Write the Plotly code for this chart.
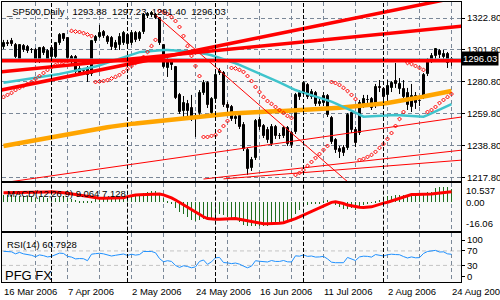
import plotly.graph_objects as go
import pandas as pd

# ---------------- data ----------------
holidays = ["2006-04-14", "2006-05-29", "2006-07-04"]
dates = [d for d in pd.bdate_range("2006-03-16", "2006-08-24") if d.strftime("%Y-%m-%d") not in holidays]

opens = [1303.8, 1306.4, 1307.7, 1305.1, 1295.9, 1304.4, 1303.8, 1301.8, 1301.8, 1293.9,
         1303.1, 1301.1, 1303.1, 1297.2, 1306.4, 1312.3, 1309.7, 1297.2, 1297.2, 1286.7,
         1288.0, 1290.0, 1286.0, 1307.7, 1310.3, 1313.6, 1310.3, 1309.7, 1303.1, 1305.1,
         1306.4, 1311.6, 1306.4, 1312.9, 1309.0, 1313.6, 1324.1, 1324.8, 1324.8, 1322.8,
         1305.1, 1290.0, 1294.6, 1290.6, 1272.3, 1261.8, 1266.4, 1263.7, 1256.5, 1260.4,
         1273.6, 1280.1, 1260.4, 1269.6, 1286.7, 1286.7, 1265.7, 1264.4, 1256.5, 1258.5,
         1252.6, 1236.2, 1224.4, 1230.9, 1255.9, 1251.9, 1249.3, 1240.1, 1251.3, 1245.4,
         1245.4, 1250.6, 1247.3, 1248.0, 1273.6, 1272.9, 1278.8, 1270.9, 1273.6, 1266.4,
         1267.0, 1271.6, 1257.2, 1242.7, 1236.8, 1237.5, 1237.5, 1260.4, 1249.3, 1247.3,
         1265.0, 1269.0, 1269.6, 1265.0, 1277.2, 1276.2, 1272.3, 1276.9, 1281.4, 1276.2,
         1276.2, 1273.6, 1264.4, 1271.6, 1268.3, 1270.9, 1286.0, 1294.6, 1297.9, 1301.1,
         1297.2, 1299.2, 1293.88]
highs = [1308.4, 1308.4, 1309.7, 1306.4, 1305.7, 1305.7, 1305.1, 1303.1, 1303.1, 1303.8,
         1304.4, 1302.4, 1303.8, 1307.0, 1312.9, 1312.9, 1310.3, 1298.5, 1298.5, 1291.3,
         1290.0, 1291.3, 1308.4, 1311.6, 1318.2, 1314.9, 1311.6, 1311.0, 1308.4, 1312.9,
         1314.3, 1312.9, 1314.9, 1314.3, 1314.3, 1326.1, 1326.7, 1327.4, 1326.1, 1323.4,
         1305.7, 1296.5, 1295.9, 1291.3, 1273.6, 1271.6, 1269.0, 1272.3, 1260.4, 1275.5,
         1282.1, 1281.4, 1270.9, 1286.7, 1290.0, 1288.0, 1267.7, 1265.7, 1259.8, 1260.4,
         1254.5, 1237.5, 1231.6, 1256.5, 1257.8, 1253.2, 1251.3, 1253.2, 1252.6, 1247.3,
         1251.9, 1251.9, 1248.6, 1273.6, 1275.5, 1281.4, 1280.1, 1276.2, 1274.9, 1269.6,
         1274.2, 1272.9, 1258.5, 1244.0, 1238.8, 1239.4, 1260.4, 1262.4, 1251.3, 1269.0,
         1272.3, 1272.3, 1270.9, 1279.5, 1282.1, 1277.5, 1282.1, 1281.4, 1293.3, 1283.4,
         1282.1, 1276.9, 1279.5, 1274.2, 1270.9, 1286.7, 1296.5, 1299.8, 1303.1, 1302.4,
         1301.8, 1300.5, 1297.23]
lows = [1302.4, 1304.4, 1304.4, 1296.5, 1295.2, 1300.5, 1299.8, 1299.8, 1293.3, 1293.3,
        1298.5, 1293.9, 1295.9, 1296.5, 1305.1, 1307.7, 1295.2, 1292.6, 1286.0, 1285.4,
        1286.7, 1280.8, 1284.7, 1306.4, 1309.7, 1309.7, 1305.7, 1301.8, 1301.8, 1301.8,
        1305.1, 1304.4, 1305.1, 1307.0, 1307.7, 1312.3, 1322.8, 1323.4, 1322.1, 1305.1,
        1290.0, 1284.1, 1288.7, 1269.6, 1259.8, 1257.2, 1257.2, 1255.2, 1244.7, 1257.2,
        1272.3, 1263.7, 1259.1, 1268.3, 1285.4, 1264.4, 1261.1, 1255.2, 1253.2, 1249.9,
        1235.5, 1219.8, 1222.4, 1229.6, 1249.3, 1244.0, 1240.8, 1238.8, 1243.4, 1243.4,
        1244.0, 1238.8, 1237.5, 1246.7, 1269.0, 1271.6, 1269.6, 1269.6, 1265.0, 1265.0,
        1265.0, 1257.8, 1240.1, 1234.2, 1230.9, 1232.2, 1236.2, 1247.3, 1238.1, 1246.0,
        1263.7, 1265.0, 1262.4, 1263.7, 1274.2, 1265.7, 1267.7, 1274.2, 1276.9, 1272.9,
        1269.6, 1262.4, 1261.1, 1263.1, 1265.0, 1269.6, 1284.7, 1293.3, 1295.9, 1296.5,
        1295.2, 1290.0, 1291.40]
closes = [1306.4, 1306.0, 1305.7, 1297.2, 1305.1, 1301.8, 1301.1, 1301.6, 1293.9, 1303.1,
          1299.8, 1295.2, 1297.2, 1306.4, 1311.6, 1309.0, 1296.5, 1293.9, 1287.4, 1289.3,
          1288.2, 1285.4, 1307.7, 1310.3, 1312.9, 1311.0, 1307.0, 1303.8, 1306.4, 1310.3,
          1312.9, 1305.7, 1312.9, 1308.4, 1312.9, 1324.8, 1325.4, 1326.1, 1322.8, 1306.4,
          1290.6, 1294.6, 1291.9, 1270.3, 1261.1, 1267.0, 1261.8, 1256.5, 1258.5, 1273.6,
          1280.1, 1265.7, 1269.6, 1285.4, 1288.0, 1265.7, 1263.7, 1256.5, 1257.8, 1251.3,
          1236.8, 1223.7, 1229.6, 1255.2, 1251.3, 1245.4, 1242.7, 1251.3, 1245.4, 1245.2,
          1250.6, 1240.1, 1239.4, 1272.3, 1270.9, 1280.1, 1270.9, 1274.2, 1266.4, 1267.7,
          1271.6, 1259.1, 1241.4, 1236.2, 1234.9, 1234.2, 1259.1, 1249.3, 1240.8, 1267.0,
          1269.6, 1268.8, 1263.7, 1277.5, 1276.9, 1270.9, 1278.2, 1280.1, 1279.5, 1279.5,
          1270.9, 1265.7, 1271.6, 1267.0, 1268.1, 1285.4, 1295.2, 1297.9, 1302.4, 1298.5,
          1299.2, 1293.3, 1296.03]

ma_orange = [1238.8, 1239.3, 1239.8, 1240.2, 1240.7, 1241.2, 1241.6, 1242.1, 1242.6, 1243.0,
             1243.5, 1244.0, 1244.5, 1244.9, 1245.4, 1245.9, 1246.3, 1246.8, 1247.3, 1247.8,
             1248.2, 1248.7, 1249.2, 1249.7, 1250.1, 1250.6, 1251.1, 1251.5, 1252.0, 1252.5,
             1252.8, 1253.0, 1253.3, 1253.5, 1253.8, 1254.0, 1254.3, 1254.5, 1254.7, 1254.9,
             1255.2, 1255.4, 1255.6, 1255.9, 1256.2, 1256.5, 1256.8, 1257.1, 1257.4, 1257.7,
             1258.0, 1258.3, 1258.6, 1258.9, 1259.2, 1259.5, 1259.8, 1260.1, 1260.2, 1260.4,
             1260.5, 1260.6, 1260.8, 1260.9, 1261.0, 1261.2, 1261.3, 1261.4, 1261.6, 1261.7,
             1261.8, 1262.0, 1262.1, 1262.3, 1262.4, 1262.6, 1262.7, 1262.9, 1263.0, 1263.2,
             1263.3, 1263.5, 1263.6, 1263.8, 1263.9, 1264.1, 1264.2, 1264.5, 1264.7, 1265.0,
             1265.2, 1265.5, 1265.7, 1266.0, 1266.2, 1266.6, 1267.0, 1267.4, 1267.8, 1268.3,
             1268.7, 1269.1, 1269.6, 1270.1, 1270.7, 1271.2, 1271.8, 1272.3, 1272.8, 1273.3,
             1273.9, 1274.4, 1274.9]
ma_cyan = [1280.3, 1280.7, 1281.1, 1281.5, 1281.9, 1282.2, 1282.6, 1283.0, 1283.4, 1283.7,
           1284.1, 1284.6, 1285.1, 1285.6, 1286.1, 1286.6, 1287.1, 1287.6, 1288.1, 1288.6,
           1289.1, 1289.5, 1290.0, 1290.9, 1291.8, 1292.7, 1293.6, 1294.4, 1295.3, 1296.2,
           1297.1, 1298.1, 1299.0, 1300.0, 1300.4, 1300.7, 1301.0, 1301.3, 1301.5, 1301.7,
           1301.8, 1301.8, 1301.7, 1301.6, 1301.4, 1301.2, 1300.9, 1300.6, 1300.3, 1300.0,
           1299.6, 1299.0, 1298.3, 1297.5, 1296.8, 1296.0, 1295.1, 1294.2, 1293.1, 1292.0,
           1290.9, 1289.8, 1288.7, 1287.6, 1286.5, 1285.4, 1284.2, 1282.9, 1281.7, 1280.5,
           1279.2, 1278.0, 1276.7, 1275.5, 1274.6, 1273.8, 1272.9, 1272.1, 1271.2, 1270.4,
           1269.5, 1268.7, 1267.9, 1266.8, 1265.7, 1264.5, 1263.4, 1262.0, 1260.7, 1259.3,
           1258.0, 1258.1, 1258.3, 1258.4, 1258.6, 1258.7, 1258.8, 1259.0, 1259.1, 1259.0,
           1258.8, 1258.7, 1258.5, 1258.3, 1258.2, 1258.0, 1259.1, 1260.2, 1261.3, 1262.5,
           1263.7, 1265.0, 1266.2]
sar = [1270.9, 1272.3, 1273.6, 1275.5, 1276.9, 1278.2, 1279.5, 1280.8, 1282.8, 1284.7,
       1286.7, 1288.7, 1290.6, 1291.9, 1293.3, 1293.9, 1294.6, 1314.3, 1313.9, 1313.6,
       1312.9, 1312.0, 1311.0, 1280.8, 1281.1, 1281.4, 1282.1, 1283.1, 1284.1, 1285.4,
       1287.4, 1289.3, 1291.3, 1293.3, 1295.2, 1297.2, 1300.5, 1304.4, 1308.4, 1327.4,
       1326.7, 1325.4, 1323.4, 1320.8, 1316.9, 1311.0, 1304.4, 1297.9, 1291.3, 1284.7,
       1244.7, 1244.7, 1245.4, 1246.0, 1248.6, 1251.9, 1255.2, 1290.0, 1289.7, 1288.7,
       1287.4, 1284.7, 1281.4, 1277.5, 1274.2, 1270.9, 1268.3, 1266.4, 1264.4, 1262.4,
       1260.4, 1258.5, 1257.2, 1219.8, 1221.1, 1223.0, 1225.7, 1228.3, 1230.9, 1233.5,
       1236.2, 1238.8, 1280.8, 1280.1, 1278.8, 1276.9, 1274.9, 1272.3, 1269.6, 1229.6,
       1230.3, 1231.6, 1232.9, 1234.9, 1237.5, 1240.1, 1243.4, 1247.3, 1251.9, 1256.5,
       1261.1, 1293.3, 1292.6, 1291.3, 1290.0, 1288.7, 1261.1, 1262.4, 1264.4, 1267.0,
       1269.0, 1270.9, 1272.9]

macd_main = [5.0, 5.0, 4.8, 4.3, 4.5, 4.3, 4.0, 3.7, 3.2, 3.5,
             3.4, 3.0, 2.9, 3.2, 3.8, 4.0, 3.2, 2.5, 1.6, 1.0,
             0.6, 0.3, 1.2, 2.0, 2.6, 2.8, 2.9, 2.6, 2.6, 3.0,
             3.4, 3.5, 4.0, 4.2, 4.6, 6.0, 7.0, 7.6, 7.7, 5.5,
             2.8, 1.0, -0.8, -3.5, -6.5, -8.0, -9.8, -11.5, -12.5, -12.0,
             -10.8, -11.0, -10.8, -9.0, -7.8, -8.5, -9.5, -10.8, -11.8, -13.0,
             -14.8, -16.06, -16.0, -15.5, -15.8, -16.0, -15.8, -15.0, -14.5, -14.0,
             -13.5, -13.0, -12.0, -8.0, -5.0, -2.5, -1.8, -1.0, -1.2, -0.6,
             0.5, 1.4, 1.0, -1.5, -3.0, -4.2, -4.6, -4.0, -4.8, -3.0,
             -2.0, -1.2, -0.4, 0.8, 1.5, 2.5, 4.0, 4.5, 5.0, 5.2,
             4.8, 4.2, 4.6, 4.4, 4.8, 6.0, 6.6, 6.8, 9.5, 10.2,
             10.537, 10.0, 9.064]
macd_signal = [6.4, 6.4, 6.5, 6.5, 6.6, 6.6, 6.7, 6.7, 6.8, 6.8,
               6.9, 6.9, 7.0, 6.9, 6.7, 6.4, 6.0, 5.6, 5.1, 4.6,
               4.1, 3.6, 3.2, 2.9, 2.7, 2.7, 2.7, 2.7, 2.7, 2.8,
               3.0, 3.8, 4.5, 4.9, 5.0, 5.1, 5.3, 5.5, 5.6, 5.5,
               5.0, 4.2, 3.0, 1.6, 0.0, -1.6, -3.3, -5.0, -6.7, -8.3,
               -9.6, -10.8, -11.3, -11.3, -11.2, -11.1, -10.8, -10.7, -10.8, -11.2,
               -11.7, -12.2, -12.8, -13.5, -14.0, -14.2, -14.2, -14.2, -14.1, -14.0,
               -13.6, -12.8, -11.8, -10.8, -9.7, -8.5, -7.3, -6.0, -4.6, -3.3,
               -2.1, -0.8, 0.0, 0.4, 0.0, -0.8, -1.8, -2.4, -2.9, -3.3,
               -3.4, -3.3, -3.0, -2.2, -1.2, -0.5, 0.1, 1.0, 1.9, 3.0,
               3.8, 4.6, 5.2, 5.3, 5.3, 5.3, 5.3, 5.5, 5.9, 6.3,
               6.7, 7.0, 7.128]
rsi = [69.0, 68.5, 67.5, 62.0, 66.0, 62.0, 60.5, 58.0, 54.0, 59.0,
       57.0, 53.5, 55.0, 60.5, 64.0, 63.0, 55.0, 53.0, 48.0, 49.0,
       48.5, 43.0, 61.0, 62.5, 63.5, 62.0, 59.0, 56.0, 58.0, 60.0,
       61.5, 57.5, 61.0, 58.5, 60.0, 68.5, 68.0, 68.5, 65.0, 49.0,
       40.0, 43.0, 41.0, 30.0, 24.5, 29.0, 27.0, 23.5, 26.0, 41.0,
       45.0, 33.0, 40.0, 51.0, 52.0, 38.0, 37.0, 35.0, 36.5, 33.5,
       28.0, 23.5, 28.0, 43.0, 41.5, 40.0, 39.5, 43.5, 41.0, 41.0,
       43.5, 40.0, 39.5, 56.5, 55.5, 59.0, 55.0, 56.0, 53.0, 53.5,
       55.0, 48.0, 39.0, 37.5, 37.0, 37.5, 52.0, 47.0, 43.5, 53.5,
       55.5, 55.0, 53.0, 60.0, 59.0, 56.0, 59.5, 61.0, 60.0, 59.5,
       54.5, 50.5, 53.5, 51.0, 51.5, 63.0, 68.5, 69.5, 71.5, 67.0,
       67.5, 62.0, 60.7928]

price_ticks = [1217.8, 1238.8, 1259.8, 1280.8, 1301.8, 1322.8]
rsi_ticks = [100, 70, 30, 0]
rsi_levels = [70, 30]

# drawn objects (bar index, price)
level_line = 1294.8
thick_lines = [([-1, 115], [1275.3, 1337.2]),
               ([-1, 115], [1287.4, 1317.5])]
thin_lines = [([38, 87], [1324.8, 1213.1]),
              ([-1, 115], [1214.3, 1258.0]),
              ([50, 115], [1217.1, 1236.2]),
              ([55, 115], [1217.2, 1229.6])]

# ---------------- figure ----------------
n = len(dates)
idx = list(range(n))
UP, DN = "#00E000", "#F00000"
GRID = "#7b8898"
FONT = "Liberation Sans, Arial, sans-serif"
xr = [-0.375, 114.375]

fig = go.Figure()

# wicks
wx, wy = [], []
for i in idx:
    wx += [i, i, None]
    wy += [lows[i], highs[i], None]
fig.add_trace(go.Scatter(x=wx, y=wy, mode="lines", line=dict(color="black", width=1),
                         xaxis="x", yaxis="y", hoverinfo="skip"))
# bodies
fig.add_trace(go.Bar(x=idx, y=[abs(c - o) for o, c in zip(opens, closes)],
                     base=[min(o, c) for o, c in zip(opens, closes)], width=0.5,
                     marker=dict(color=[UP if c >= o else DN for o, c in zip(opens, closes)],
                                 line=dict(color="black", width=1)),
                     xaxis="x", yaxis="y", hoverinfo="skip"))
# indicators
fig.add_trace(go.Scatter(x=idx, y=ma_orange, mode="lines", line=dict(color="#FFA500", width=4.5),
                         xaxis="x", yaxis="y", hoverinfo="skip"))
fig.add_trace(go.Scatter(x=idx, y=ma_cyan, mode="lines", line=dict(color="#3FC4CC", width=2.5),
                         xaxis="x", yaxis="y", hoverinfo="skip"))
fig.add_trace(go.Scatter(x=idx, y=sar, mode="markers",
                         marker=dict(symbol="diamond-open", size=3, color="#FF0000", line=dict(width=1, color="#FF0000")),
                         xaxis="x", yaxis="y", hoverinfo="skip"))
# bid line
fig.add_trace(go.Scatter(x=[-1, 115], y=[closes[-1]] * 2, mode="lines", line=dict(color="#8a98aa", width=1),
                         xaxis="x", yaxis="y", hoverinfo="skip"))
# trend lines
fig.add_trace(go.Scatter(x=[-1, 115], y=[level_line] * 2, mode="lines", line=dict(color="#FF0000", width=3.5),
                         xaxis="x", yaxis="y", hoverinfo="skip"))
for lx, ly in thick_lines:
    fig.add_trace(go.Scatter(x=lx, y=ly, mode="lines", line=dict(color="#FF0000", width=3.5),
                             xaxis="x", yaxis="y", hoverinfo="skip"))
for lx, ly in thin_lines:
    fig.add_trace(go.Scatter(x=lx, y=ly, mode="lines", line=dict(color="#FF0000", width=1),
                             xaxis="x", yaxis="y", hoverinfo="skip"))

# MACD
fig.add_trace(go.Bar(x=idx, y=macd_main, width=0.25, marker=dict(color="#1E6E1E", line=dict(width=0)),
                     xaxis="x2", yaxis="y2", hoverinfo="skip"))
fig.add_trace(go.Scatter(x=idx, y=macd_signal, mode="lines", line=dict(color="#FF0000", width=3),
                         xaxis="x2", yaxis="y2", hoverinfo="skip"))
# RSI
fig.add_trace(go.Scatter(x=idx, y=rsi, mode="lines", line=dict(color="#1E90FF", width=1),
                         xaxis="x3", yaxis="y3", hoverinfo="skip"))

grid_x = list(range(8, n, 8))
sep_idx = [i for i in range(1, n) if dates[i].month != dates[i - 1].month]

shapes = []
for s in sep_idx:
    for yr in ["y domain", "y2 domain", "y3 domain"]:
        shapes.append(dict(type="line", xref="x", yref=yr, x0=s, x1=s, y0=0, y1=1,
                           line=dict(color="black", width=1, dash="4px,2px"), layer="above"))
for lv in rsi_levels:
    shapes.append(dict(type="line", xref="x3 domain", yref="y3", x0=0, x1=1, y0=lv, y1=lv,
                       line=dict(color="#c4c4c4", width=1, dash="4px,3px"), layer="below"))

annotations = []
for i in range(0, n, 16):
    d = dates[i]
    annotations.append(dict(x=i, xref="x", y=0, yref="paper", yanchor="top", xanchor="left",
                            yshift=-2, xshift=-2, showarrow=False,
                            text=f"{d.day} {d.strftime('%b %Y')}", font=dict(size=9.5, family=FONT)))
sp = "\u00a0"
annotations.append(dict(x=0, xref="paper", y=1, yref="paper", xanchor="left", yanchor="top",
                        xshift=2, yshift=-2, showarrow=False, font=dict(size=9.5, family=FONT),
                        text=f"_SP500,Daily{sp*3}{opens[-1]:.2f}{sp*2}{highs[-1]:.2f}{sp*2}{lows[-1]:.2f}{sp*2}{closes[-1]:.2f}"))
annotations.append(dict(x=0, xref="paper", y=0.3536, yref="paper", xanchor="left", yanchor="top",
                        xshift=3, yshift=-3, showarrow=False, font=dict(size=9.5, family=FONT),
                        text=f"MACD(12,26,9) {macd_main[-1]:.3f} {macd_signal[-1]:.3f}"))
annotations.append(dict(x=0, xref="paper", y=0.176, yref="paper", xanchor="left", yanchor="top",
                        xshift=3, yshift=-4, showarrow=False, font=dict(size=9.5, family=FONT),
                        text=f"RSI(14) {rsi[-1]:.4f}"))
annotations.append(dict(x=0, xref="paper", y=0, yref="paper", xanchor="left", yanchor="bottom",
                        xshift=1, yshift=-3, showarrow=False, font=dict(size=13, family=FONT),
                        text="PFG FX"))
annotations.append(dict(x=1, xref="paper", y=closes[-1], yref="y", xanchor="left", yanchor="middle",
                        xshift=0, showarrow=False, bgcolor="black", borderpad=1,
                        font=dict(size=9.5, family=FONT, color="white"), text=f"{closes[-1]:.2f}"))
mmax, mmin = max(macd_main), min(macd_main)
for v, txt, sh in [(mmax, f"{mmax:.3f}", -3.5), (0, "0.00", 0), (mmin, f"{mmin:.2f}", 2.5)]:
    annotations.append(dict(x=1, xref="paper", y=v, yref="y2", xanchor="left", yanchor="middle",
                            xshift=3, yshift=sh, showarrow=False, font=dict(size=9.5, family=FONT),
                            text=txt))

xcommon = dict(range=xr, tickmode="array", tickvals=grid_x, showticklabels=False, ticks="",
               showgrid=True, gridcolor=GRID, griddash="4px,3px", gridwidth=1,
               showline=True, mirror=True, linecolor="black", linewidth=1, zeroline=False,
               automargin=False, fixedrange=True)
fig.update_layout(
    template="none", width=500, height=300,
    margin=dict(l=2, r=39, t=2, b=18),
    paper_bgcolor="white", plot_bgcolor="#f8f8f8",
    showlegend=False, barmode="overlay", bargap=0,
    font=dict(family=FONT, size=9.5, color="black"),
    xaxis=dict(domain=[0, 1], anchor="y", **xcommon),
    xaxis2=dict(domain=[0, 1], anchor="y2", **xcommon),
    xaxis3=dict(domain=[0, 1], anchor="y3", **xcommon),
    yaxis=dict(domain=[0.3607, 1], anchor="x", range=[1215.8, 1333.3], side="right",
               tickmode="array", tickvals=price_ticks, ticktext=[f"{v:.2f}" for v in price_ticks],
               ticks="outside", ticklen=3, tickcolor="black", tickfont=dict(size=9.5, family=FONT),
               showgrid=True, gridcolor=GRID, griddash="4px,3px", gridwidth=1,
               showline=True, mirror=True, linecolor="black", linewidth=1, zeroline=False,
               automargin=False),
    yaxis2=dict(domain=[0.1832, 0.3536], anchor="x2", range=[-18.9, 12.9], side="right",
                showticklabels=False, ticks="", showgrid=False, zeroline=False,
                showline=True, mirror=True, linecolor="black", linewidth=1, automargin=False),
    yaxis3=dict(domain=[0, 0.176], anchor="x3", range=[-15.8, 120.3], side="right",
                tickmode="array", tickvals=rsi_ticks, ticktext=[str(v) for v in rsi_ticks],
                ticks="outside", ticklen=3, tickcolor="black", tickfont=dict(size=9.5, family=FONT),
                showgrid=False, zeroline=False,
                showline=True, mirror=True, linecolor="black", linewidth=1, automargin=False),
    shapes=shapes, annotations=annotations,
)

fig.write_html("out.html")
